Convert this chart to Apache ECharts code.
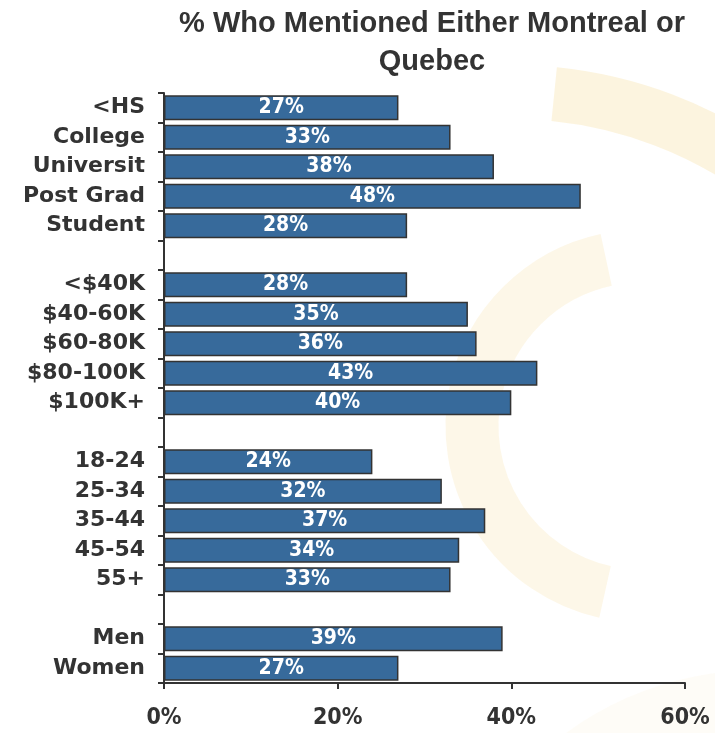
<!DOCTYPE html>
<html>
<head>
<meta charset="utf-8">
<script src="https://cdn.jsdelivr.net/npm/echarts@6/dist/echarts.min.js"></script>
<style>
  html, body { margin: 0; padding: 0; background: #fff; }
  #main { width: 715px; height: 733px; }
</style>
</head>
<body>
<div id="main"></div>
<script>
// categories, '' = spacer row between groups
var categories = ['<HS', 'College', 'Universit', 'Post Grad', 'Student', '',
  '<$40K', '$40-60K', '$60-80K', '$80-100K', '$100K+', '',
  '18-24', '25-34', '35-44', '45-54', '55+', '',
  'Men', 'Women']
var values = [27, 33, 38, 48, 28, null,
  28, 35, 36, 43, 40, null,
  24, 32, 37, 34, 33, null,
  39, 27]
var xTicks = [0, 20, 40, 60]

var myChart = echarts.init(document.getElementById('main'))
var titleFont = '"Liberation Sans", Arial, sans-serif'
var labelFont = '"DejaVu Sans", sans-serif'
var numFont = '"DejaVu Sans Condensed", "DejaVu Sans", sans-serif'

var option = {
  backgroundColor: '#fff',
  // faint watermark arcs behind the plot
  graphic: [
    {
      type: 'arc', z: -10, silent: true,
      shape: { cx: 511, cy: 521, r: 429, startAngle: -1.47, endAngle: -0.4, clockwise: true },
      style: { stroke: 'rgba(244,214,140,0.28)', lineWidth: 54, fill: null }
    },
    {
      type: 'arc', z: -10, silent: true,
      shape: { cx: 642, cy: 426, r: 170, startAngle: 1.79, endAngle: 4.5, clockwise: true },
      style: { stroke: 'rgba(244,214,140,0.2)', lineWidth: 53, fill: null }
    },
    {
      type: 'arc', z: -10, silent: true,
      shape: { cx: 760, cy: 1000, r: 300, startAngle: -2.25, endAngle: -1.3, clockwise: true },
      style: { stroke: 'rgba(244,214,140,0.07)', lineWidth: 60, fill: null }
    }
  ],
  title: {
    text: '% Who Mentioned Either Montreal or\nQuebec',
    left: 427,
    top: 0,
    textAlign: 'center',
    textStyle: {
      fontFamily: titleFont,
      fontWeight: 'bold',
      fontSize: 29,
      color: '#333',
      lineHeight: 38
    }
  },
  grid: { left: 164, right: 30, top: 93, bottom: 50, containLabel: false },
  xAxis: {
    type: 'value',
    min: xTicks[0],
    max: xTicks[xTicks.length - 1],
    interval: 20,
    axisLine: { show: true, lineStyle: { color: '#333', width: 2 } },
    axisTick: { show: true, length: 6, lineStyle: { color: '#333', width: 2 } },
    axisLabel: {
      formatter: '{value}%',
      margin: 24,
      fontFamily: numFont,
      fontWeight: 'bold',
      fontSize: 23,
      color: '#333'
    },
    splitLine: { show: false }
  },
  yAxis: {
    type: 'category',
    inverse: true,
    data: categories,
    axisLine: { show: true, lineStyle: { color: '#333', width: 2 } },
    axisTick: { show: true, length: 6, lineStyle: { color: '#333', width: 2 } },
    axisLabel: {
      margin: 19,
      fontFamily: labelFont,
      fontWeight: 'bold',
      fontSize: 22,
      color: '#333',
      interval: 0
    }
  },
  series: [
    {
      type: 'bar',
      data: values,
      barCategoryGap: '15%',
      itemStyle: { color: '#376a9b', borderColor: '#333', borderWidth: 1.5 },
      label: {
        show: true,
        position: 'inside',
        formatter: '{c}%',
        fontFamily: numFont,
        fontWeight: 'bold',
        fontSize: 21,
        color: '#fff'
      },
      silent: true
    }
  ]
}

myChart.setOption(option)
</script>
</body>
</html>
